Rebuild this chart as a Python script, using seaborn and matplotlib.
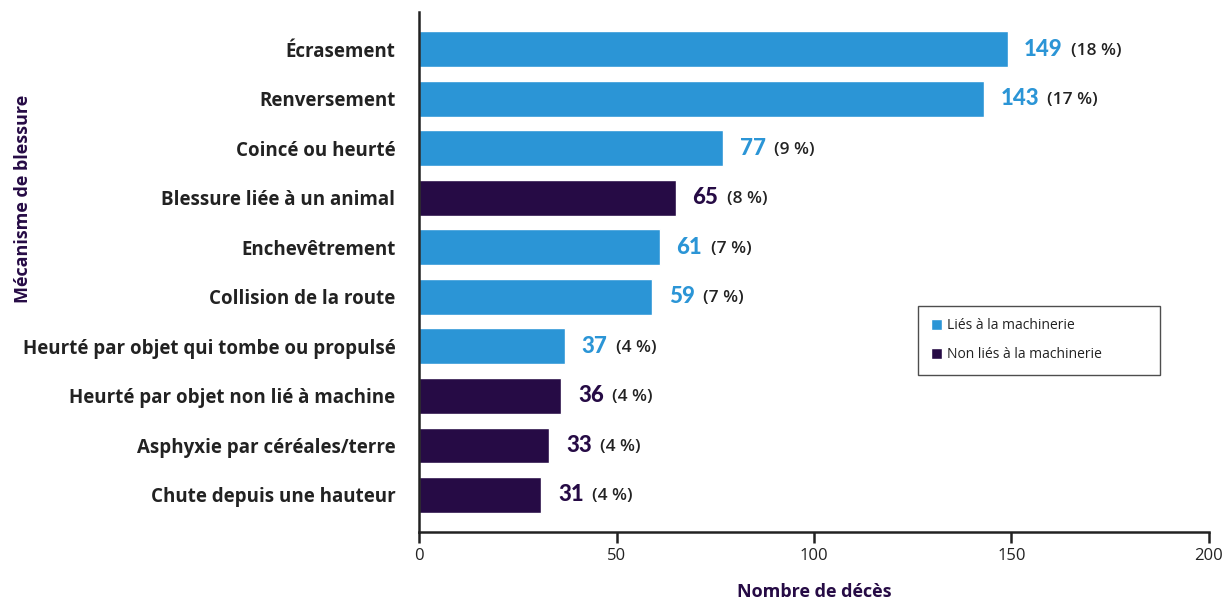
import seaborn as sns
import pandas as pd
import matplotlib.pyplot as plt

# data
categories = [
    "Écrasement",
    "Renversement",
    "Coincé ou heurté",
    "Blessure liée à un animal",
    "Enchevêtrement",
    "Collision de la route",
    "Heurté par objet qui tombe ou propulsé",
    "Heurté par objet non lié à machine",
    "Asphyxie par céréales/terre",
    "Chute depuis une hauteur",
]
deaths = [149, 143, 77, 65, 61, 59, 37, 36, 33, 31]
percents = ["18 %", "17 %", "9 %", "8 %", "7 %", "7 %", "4 %", "4 %", "4 %", "4 %"]
groups = [
    "Liés à la machinerie",
    "Liés à la machinerie",
    "Liés à la machinerie",
    "Non liés à la machinerie",
    "Liés à la machinerie",
    "Liés à la machinerie",
    "Liés à la machinerie",
    "Non liés à la machinerie",
    "Non liés à la machinerie",
    "Non liés à la machinerie",
]

BLUE = "#2b95d6"
PURPLE = "#260b45"
palette = {"Liés à la machinerie": BLUE, "Non liés à la machinerie": PURPLE}

df = pd.DataFrame({"cat": categories, "n": deaths, "pct": percents, "group": groups})

sns.set_theme(style="white")
plt.rcParams["font.family"] = ["Open Sans", "DejaVu Sans"]

fig, ax = plt.subplots(figsize=(12.27, 6.03), dpi=100)
fig.subplots_adjust(left=0.3415, right=0.9853, top=0.980, bottom=0.1177)

sns.barplot(data=df, x="n", y="cat", hue="group", palette=palette,
            dodge=False, width=0.72, ax=ax, saturation=1, legend=True)

ax.set_xlim(0, 200)
ax.set_ylim(9.75, -0.75)
ax.set_xticks([0, 50, 100, 150, 200])

# value labels: bold count then percentage
for i, row in df.iterrows():
    col = palette[row["group"]]
    t = ax.annotate(str(row["n"]), xy=(row["n"], i), xytext=(12, 0),
                    textcoords="offset points", va="center", ha="left",
                    fontsize=16, fontweight="black", color=col,
                    family=["Lato", "DejaVu Sans"])
    ax.annotate(f"({row['pct']})", xy=(1, 0.5), xycoords=t, xytext=(6, -1),
                textcoords="offset points", va="center", ha="left",
                fontsize=12.5, fontweight="semibold", color="#222222")

ax.set_yticks(range(len(categories)))
ax.set_yticklabels(categories, fontsize=13.5, fontweight="bold", color="#222222")
ax.tick_params(axis="y", length=0, pad=17)
ax.tick_params(axis="x", length=8, width=1.8, color="#222222", labelsize=12,
               labelcolor="#222222", direction="out", bottom=True)

for side in ["top", "right"]:
    ax.spines[side].set_visible(False)
for side in ["left", "bottom"]:
    ax.spines[side].set_color("#222222")
    ax.spines[side].set_linewidth(1.8)

ax.set_xlabel("Nombre de décès", fontsize=13, fontweight="bold", color=PURPLE, labelpad=14)
ax.set_ylabel("Mécanisme de blessure", fontsize=13, fontweight="bold", color=PURPLE)
ax.yaxis.set_label_coords(-0.49, 0.64)

leg = ax.legend(loc="upper left", bbox_to_anchor=(0.632, 0.435, 0.306, 0),
                mode="expand", borderaxespad=0, frameon=True, fontsize=10,
                handlelength=0.8, handleheight=0.8, handletextpad=0.4,
                labelspacing=1.0, borderpad=0.9, fancybox=False,
                edgecolor="#222222")
leg.get_frame().set_linewidth(1.0)
for txt in leg.get_texts():
    txt.set_color("#222222")

plt.savefig("out.png", dpi=100)
plt.close()
